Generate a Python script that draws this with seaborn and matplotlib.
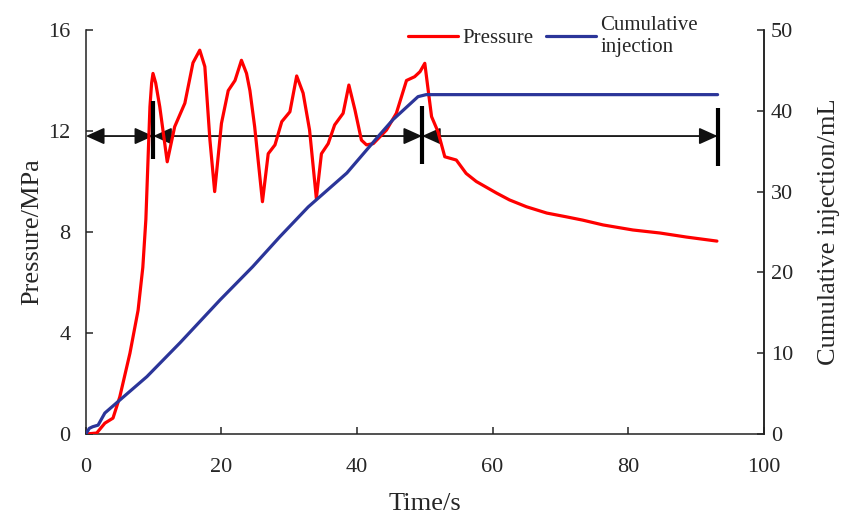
import matplotlib
matplotlib.use("Agg")
import matplotlib.pyplot as plt
from matplotlib.lines import Line2D
import seaborn as sns
import pandas as pd

# ---------------- data ----------------
time_p = [0, 1.6, 2.8, 4.0, 5.0, 6.5, 7.7, 8.4, 8.85, 9.45, 9.7, 9.9, 10.3, 10.9,
          12.0, 13.1, 14.6, 15.8, 16.8, 17.55, 18.3, 19.0, 20.0, 21.0, 22.0, 22.95,
          23.7, 24.2, 24.9, 26.05, 26.9, 27.9, 28.9, 30.1, 31.1, 32.05, 33.0, 34.0,
          34.75, 35.75, 36.7, 37.95, 38.8, 39.7, 40.65, 41.4, 42.4, 44.35, 45.8,
          47.3, 48.5, 49.3, 50.0, 50.5, 51.0, 51.95, 52.95, 54.65, 56.1, 57.6,
          60.6, 62.5, 65.0, 68.0, 70.9, 73.3, 76.3, 80.7, 84.7, 88.6, 93.1]
pressure = [0.0, 0.04, 0.43, 0.63, 1.47, 3.2, 4.9, 6.6, 8.5, 12.96, 13.9, 14.28, 13.9, 12.96,
            10.78, 12.17, 13.1, 14.7, 15.2, 14.55, 11.64, 9.6, 12.3, 13.6, 14.0, 14.8,
            14.28, 13.6, 12.17, 9.2, 11.1, 11.45, 12.37, 12.76, 14.18, 13.5, 12.04, 9.33,
            11.1, 11.5, 12.24, 12.7, 13.82, 12.83, 11.64, 11.45, 11.5, 12.04, 12.7,
            14.0, 14.15, 14.35, 14.68, 13.62, 12.57, 11.97, 10.98, 10.85, 10.32, 10.0,
            9.54, 9.27, 9.0, 8.75, 8.6, 8.47, 8.28, 8.08, 7.96, 7.8, 7.64]

time_c = [0, 0.5, 1.0, 1.8, 2.8, 5.0, 9.0, 13.9, 19.8, 24.6, 28.6, 32.8, 38.5,
          43.1, 45.3, 49.0, 50.2, 93.2]
cumulative = [0, 0.7, 0.9, 1.1, 2.6, 4.2, 7.1, 11.3, 16.6, 20.7, 24.4, 28.1, 32.3,
              36.8, 38.9, 41.75, 42.0, 42.0]

# stage boundaries (time, s) and the level of the stage arrows (MPa)
stage_bounds = [0, 9.93, 49.6, 93.2]
arrow_level = 11.8
bar_low = [10.9, 10.7, 10.6]
bar_high = [13.2, 13.0, 12.9]

x_ticks = [0, 20, 40, 60, 80, 100]
p_ticks = [0, 4, 8, 12, 16]
c_ticks = [0, 10, 20, 30, 40, 50]

df_p = pd.DataFrame({"Time": time_p, "Pressure": pressure})
df_c = pd.DataFrame({"Time": time_c, "Cumulative": cumulative})

# ---------------- style ----------------
sns.set_style("ticks")
plt.rcParams["font.family"] = ["Liberation Serif", "DejaVu Serif"]
plt.rcParams["axes.linewidth"] = 1.1
plt.rcParams["axes.edgecolor"] = "#222222"

RED = "#ff0000"
BLUE = "#2b3599"

fig = plt.figure(figsize=(8.42, 5.17), dpi=100)
ax = fig.add_axes([0.102, 0.1605, 0.805, 0.7815])

sns.lineplot(data=df_p, x="Time", y="Pressure", ax=ax, color=RED, lw=2.3,
             sort=False, estimator=None, solid_joinstyle="round", zorder=3)

# stage arrows and boundary bars
for i in range(len(stage_bounds) - 1):
    ax.annotate("", xy=(stage_bounds[i], arrow_level),
                xytext=(stage_bounds[i + 1], arrow_level),
                arrowprops=dict(arrowstyle="<|-|>,head_length=0.8,head_width=0.36",
                                mutation_scale=14, color="#111111", lw=1.3,
                                shrinkA=0, shrinkB=0), zorder=2)
ax.vlines(stage_bounds[1:], bar_low, bar_high, colors="black", lw=3.0, zorder=4)

ax.set_xlim(0, 100)
ax.set_ylim(0, 16)
ax.set_xticks(x_ticks)
ax.set_yticks(p_ticks)
ax.set_xlabel("Time/s", fontsize=19, labelpad=12)
ax.set_ylabel("Pressure/MPa", fontsize=19, labelpad=4)
ax.tick_params(axis="x", direction="in", length=5, width=1.1, labelsize=16, pad=17)
ax.tick_params(axis="y", direction="in", length=5, width=1.1, labelsize=16, pad=11)
ax.spines["top"].set_visible(False)

ax2 = ax.twinx()
sns.lineplot(data=df_c, x="Time", y="Cumulative", ax=ax2, color=BLUE, lw=2.3,
             sort=False, estimator=None, solid_joinstyle="round", zorder=3)
ax2.set_ylim(0, 50)
ax2.set_yticks(c_ticks)
ax2.set_ylabel("Cumulative injection/mL", fontsize=19, labelpad=18)
ax2.tick_params(direction="in", length=5, width=1.1, labelsize=16, pad=5)
ax2.spines["top"].set_visible(False)
ax2.spines["left"].set_visible(False)
ax2.spines["bottom"].set_visible(False)

handles = [Line2D([], [], color=RED, lw=2.3), Line2D([], [], color=BLUE, lw=2.3)]
fig.legend(handles, ["Pressure", "Cumulative\ninjection"], loc="center",
           bbox_to_anchor=(0.657, 0.93), ncol=2, frameon=False, fontsize=15,
           handlelength=2.4, handletextpad=0.2, columnspacing=0.6,
           borderaxespad=0, borderpad=0, labelspacing=0.1)

fig.savefig("out.png", dpi=100)
